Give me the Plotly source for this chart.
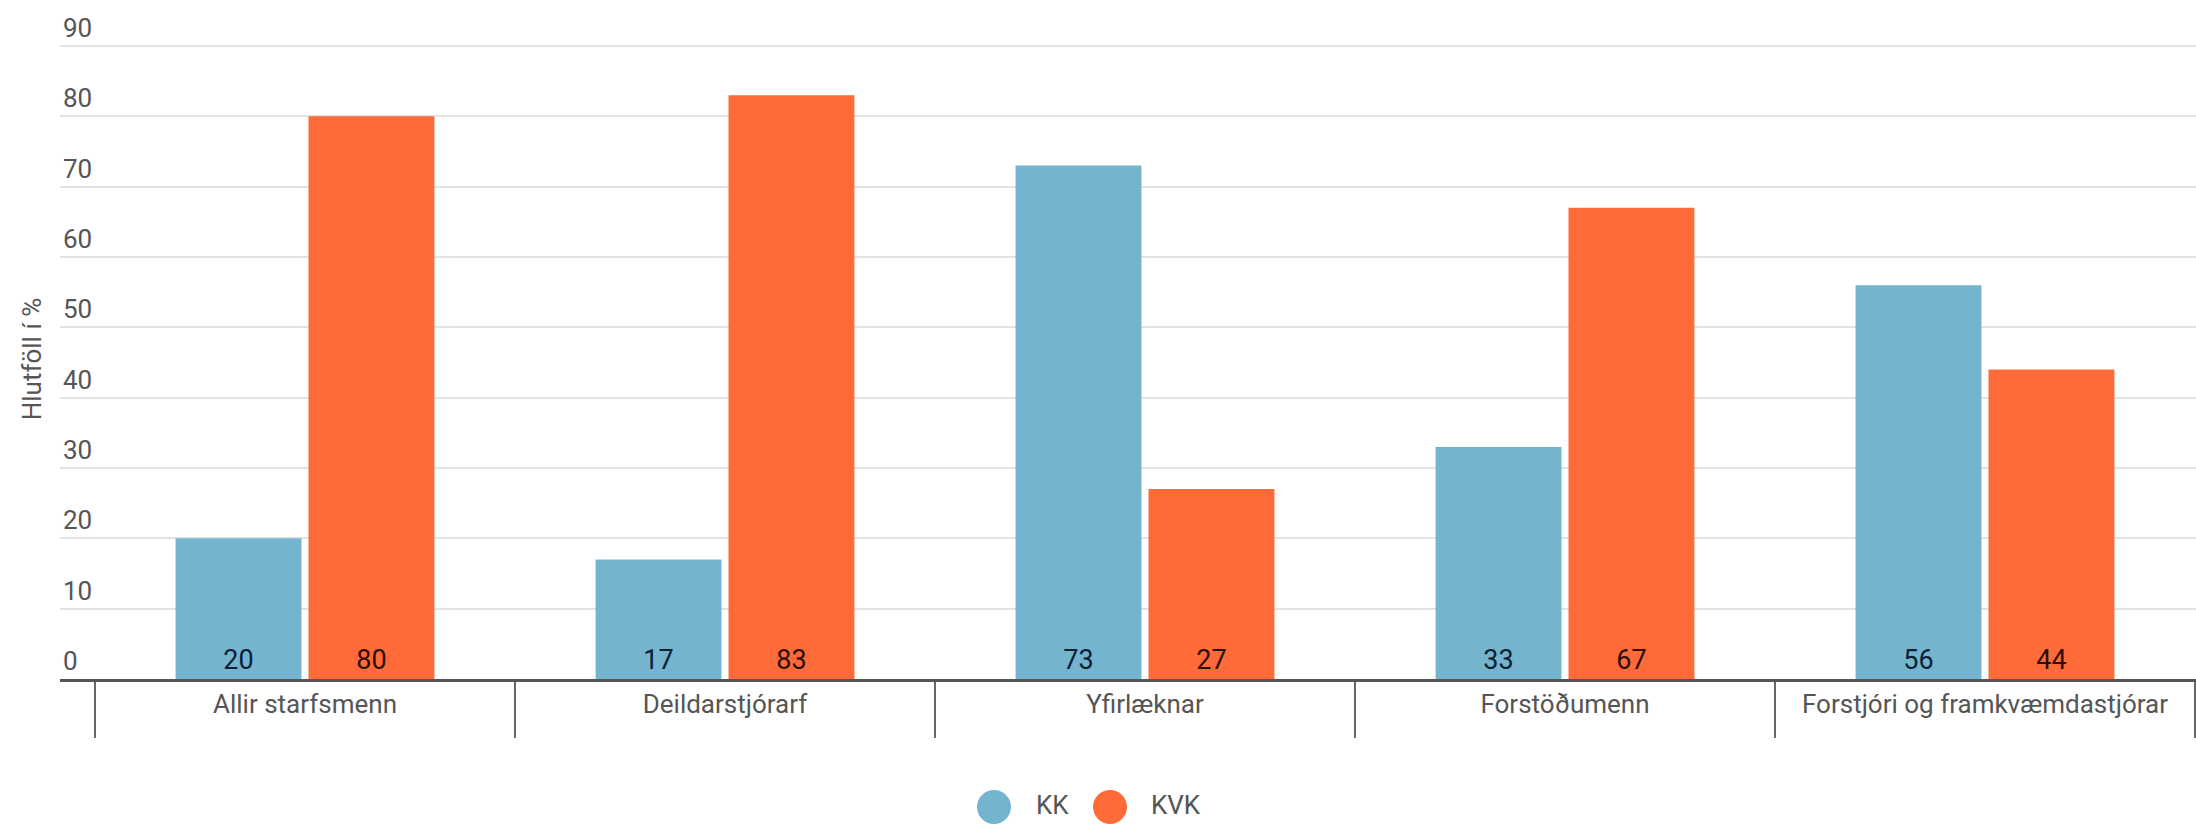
import plotly.graph_objects as go

categories = ["Allir starfsmenn", "Deildarstjórarf", "Yfirlæknar", "Forstöðumenn", "Forstjóri og framkvæmdastjórar"]
series_names = ["KK", "KVK"]
kk_values = [20, 17, 73, 33, 56]
kvk_values = [80, 83, 27, 67, 44]
y_ticks = [0, 10, 20, 30, 40, 50, 60, 70, 80, 90]

BLUE = "#74B4CF"
ORANGE = "#FF6A39"
FONT = "Roboto"
W, H = 2196, 824
ML, MR, MT, MB = 60, 0, 39, 145

fig = go.Figure()
fig.add_trace(go.Bar(
    x=categories, y=kk_values, name=series_names[0], marker=dict(color=BLUE, line=dict(width=0)),
    texttemplate="%{y}", textposition="inside", insidetextanchor="start", textangle=0,
    textfont=dict(family=FONT, size=27, color="#0b2236"), showlegend=False,
    constraintext="none", hoverinfo="x+y",
))
fig.add_trace(go.Bar(
    x=categories, y=kvk_values, name=series_names[1], marker=dict(color=ORANGE, line=dict(width=0)),
    texttemplate="%{y}", textposition="inside", insidetextanchor="start", textangle=0,
    textfont=dict(family=FONT, size=27, color="#2b0e03"), showlegend=False,
    constraintext="none", hoverinfo="x+y",
))

# legend (circles larger than plotly's built-in legend allows)
pw, ph = W - ML - MR, H - MT - MB
def px2paper_x(px):
    return (px - ML) / pw
def px2paper_y(py):
    return (H - MB - py) / ph

legend_items = [(series_names[0], BLUE, 994, 1034), (series_names[1], ORANGE, 1110, 1149)]
LEG_Y, R = 807, 17
shapes, annotations = [], []
for nm, col, cx, tx in legend_items:
    shapes.append(dict(type="circle", xref="paper", yref="paper",
                       x0=px2paper_x(cx - R), x1=px2paper_x(cx + R),
                       y0=px2paper_y(LEG_Y + R), y1=px2paper_y(LEG_Y - R),
                       fillcolor=col, line=dict(width=0)))
    annotations.append(dict(text=nm, xref="paper", yref="paper", x=px2paper_x(tx), y=px2paper_y(LEG_Y - 2),
                            xanchor="left", yanchor="middle", showarrow=False,
                            font=dict(family=FONT, size=26, color="#555555")))

fig.update_layout(
    width=W, height=H,
    margin=dict(l=ML, r=MR, t=MT, b=MB),
    paper_bgcolor="white", plot_bgcolor="white",
    font=dict(family=FONT, size=26, color="#555555"),
    bargap=0.367, bargroupgap=0.053, barmode="group",
    showlegend=False,
    shapes=shapes, annotations=annotations,
)
fig.update_xaxes(
    type="category", range=[-0.5833, 4.5024],
    showline=True, linecolor="#555555", linewidth=3,
    ticks="outside", tickson="boundaries", ticklen=56, tickwidth=2, tickcolor="#666666",
    tickfont=dict(family=FONT, size=26, color="#555555"),
    showgrid=False, zeroline=False, automargin=False,
)
fig.update_yaxes(
    range=[0, 91], tickvals=y_ticks, ticktext=[str(v) for v in y_ticks],
    ticklabelposition="inside top", ticklabeloverflow="allow", ticks="",
    tickfont=dict(family=FONT, size=26, color="#555555"),
    showgrid=True, gridcolor="#E2E2E2", gridwidth=1.5,
    zeroline=False, showline=False, automargin=False,
    title=dict(text="Hlutföll í %", font=dict(family=FONT, size=26, color="#555555"), standoff=13),
)

fig.write_html("out.html", config={"displayModeBar": False},
               post_script="document.body.style.margin='0';")
